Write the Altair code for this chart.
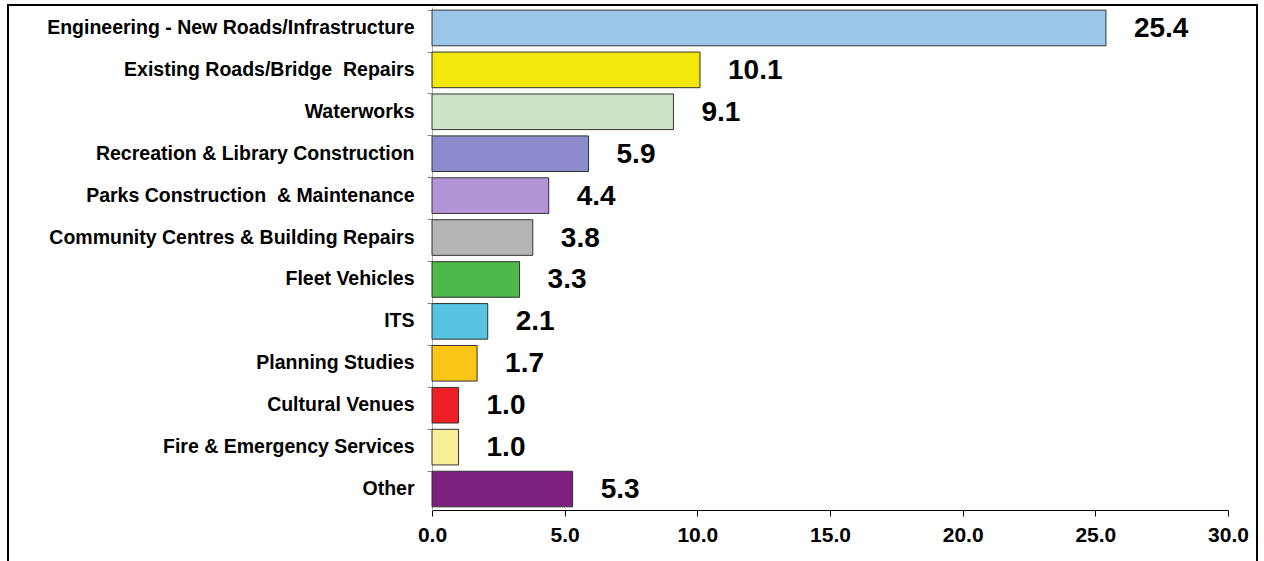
import altair as alt
import pandas as pd

categories = [
    "Engineering - New Roads/Infrastructure",
    "Existing Roads/Bridge\u00a0 Repairs",
    "Waterworks",
    "Recreation & Library Construction",
    "Parks Construction\u00a0 & Maintenance",
    "Community Centres & Building Repairs",
    "Fleet Vehicles",
    "ITS",
    "Planning Studies",
    "Cultural Venues",
    "Fire & Emergency Services",
    "Other",
]
values = [25.4, 10.1, 9.1, 5.9, 4.4, 3.8, 3.3, 2.1, 1.7, 1.0, 1.0, 5.3]
colors = [
    "#9cc5ea", "#f2e90a", "#cce5c6", "#8c8ccc", "#b394d6", "#b5b5b5",
    "#4cb848", "#56c4e0", "#fac515", "#ec2024", "#f6ef96", "#7d1f7d",
]
x_ticks = [0, 5, 10, 15, 20, 25, 30]

df = pd.DataFrame({"category": categories, "value": values})
df["label"] = [f"{v:.1f}" for v in values]

FONT = "Liberation Sans"

y_enc = alt.Y(
    "category:N",
    sort=categories,
    title=None,
    scale=alt.Scale(paddingInner=0.15, paddingOuter=0.075),
    axis=alt.Axis(
        labelFont=FONT, labelFontSize=19.5, labelFontWeight="bold", labelColor="#000",
        labelPadding=13, tickSize=5, tickColor="#888", domainColor="#aaa",
        bandPosition=0, labelLimit=500,
    ),
)
x_enc = alt.X(
    "value:Q",
    title=None,
    scale=alt.Scale(domain=[0, 30], nice=False),
    axis=alt.Axis(
        values=x_ticks, format=".1f", grid=False,
        labelFont=FONT, labelFontSize=21, labelFontWeight="bold", labelColor="#000",
        labelPadding=8, tickSize=6, tickColor="#000", domainColor="#000",
        labelFlush=False,
    ),
)

bars = alt.Chart(df).mark_bar(stroke="#333", strokeWidth=1).encode(
    x=x_enc,
    y=y_enc,
    color=alt.Color("category:N", scale=alt.Scale(domain=categories, range=colors), legend=None),
)

labels = alt.Chart(df).mark_text(
    align="left", baseline="middle", dx=28, dy=1,
    font=FONT, fontSize=28, fontWeight="bold", color="#000",
).encode(
    x="value:Q",
    y=alt.Y("category:N", sort=categories),
    text="label:N",
)

frame_df = pd.DataFrame({"k": [0]})
frame_left = alt.Chart(frame_df).mark_rule(color="#000", strokeWidth=2).encode(
    x=alt.value(-424), y=alt.value(-2), y2=alt.value(560)
)
frame_right = alt.Chart(frame_df).mark_rule(color="#000", strokeWidth=2).encode(
    x=alt.value(825), y=alt.value(-2), y2=alt.value(560)
)
frame_top = alt.Chart(frame_df).mark_rule(color="#000", strokeWidth=2).encode(
    x=alt.value(-425), x2=alt.value(826), y=alt.value(-2)
)

chart = alt.layer(bars, labels, frame_left, frame_right, frame_top).properties(
    width=796,
    height=503,
    autosize=alt.AutoSizeParams(type="none"),
    padding={"left": 432, "top": 7, "right": 36, "bottom": 51},
    background="white",
).configure_view(stroke=None)

chart.save("out.html", embed_options={"renderer": "svg", "actions": False})
